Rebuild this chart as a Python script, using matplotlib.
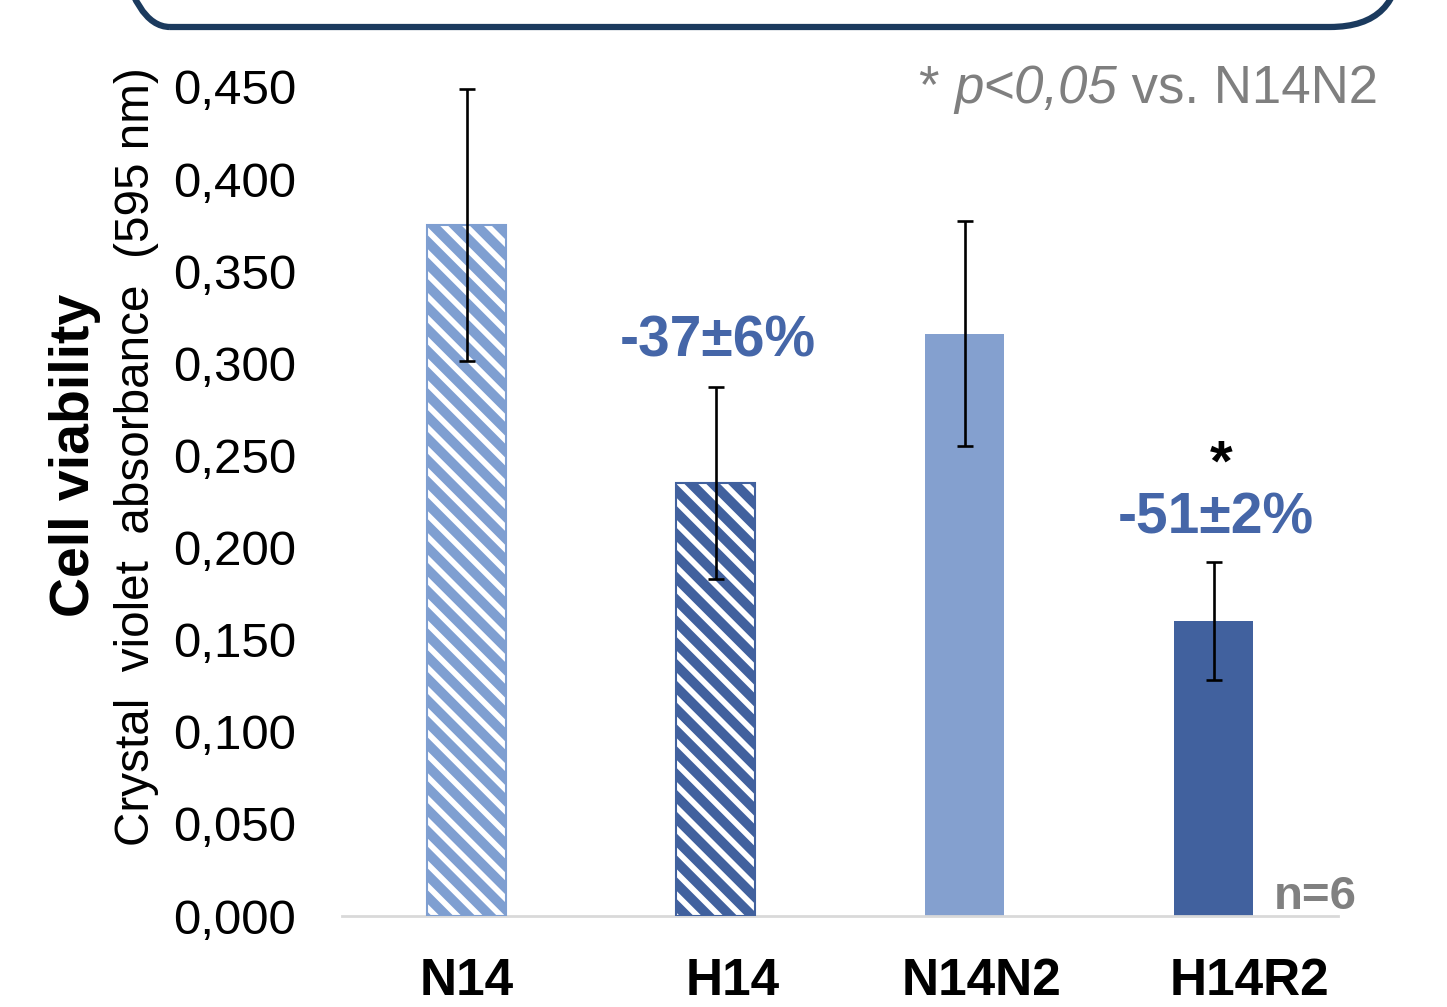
import matplotlib
matplotlib.use("Agg")
import matplotlib.pyplot as plt
from matplotlib.patches import FancyBboxPatch
from matplotlib.ticker import FuncFormatter, MultipleLocator
from matplotlib.transforms import IdentityTransform

categories = ["N14", "H14", "N14N2", "H14R2"]
means = [0.375, 0.235, 0.316, 0.160]
sds = [0.074, 0.052, 0.061, 0.032]
hatched = [True, True, False, False]
bar_colors = ["#7F9FD1", "#41619E", "#84A0CF", "#41619E"]
annot_labels = ["", "-37\u00b16%", "", "-51\u00b12%"]
annot_y = [None, 0.312, None, 0.216]
label_shift_px = [0, 17, 17, 36]

W, H = 1447, 1007
DPI = 131  # chosen so that the hatch period matches the reference


def pt(v):
    # sizes were tuned for 100 dpi; keep them the same in pixels
    return v * 100.0 / DPI


plt.rcParams["font.family"] = ["Liberation Sans", "DejaVu Sans"]
plt.rcParams["hatch.linewidth"] = 5.7 * 72 / DPI

fig = plt.figure(figsize=(W / DPI, H / DPI), dpi=DPI)


def fx(px):
    return px / W


def fy(py):
    return 1 - py / H


ax = fig.add_axes([fx(342), fy(916), fx(1338) - fx(342), fy(87) - fy(916)])
x = list(range(len(categories)))
width = 0.32

for i in x:
    if hatched[i]:
        ax.bar(i, means[i], width=width, color=bar_colors[i], edgecolor="white",
               hatch="\\\\", linewidth=0, zorder=2)
        ax.bar(i, means[i], width=width, fill=False, edgecolor=bar_colors[i],
               linewidth=pt(1.5), zorder=3)
    else:
        ax.bar(i, means[i], width=width, color=bar_colors[i], linewidth=0, zorder=2)

ax.errorbar(x, means, yerr=sds, fmt="none", ecolor="black", elinewidth=pt(1.9),
            capsize=pt(5.5), capthick=pt(1.9), zorder=4, clip_on=False)

ax.set_xlim(-0.5, 3.5)
ax.set_ylim(0, 0.45)
ax.yaxis.set_major_locator(MultipleLocator(0.05))
ax.yaxis.set_major_formatter(FuncFormatter(lambda v, p: f"{v:.3f}".replace(".", ",")))
ax.set_xticks(x)
ax.set_xticklabels([])
ax.tick_params(axis="y", length=0, pad=pt(33), labelsize=pt(35.5))
ax.tick_params(axis="x", length=0)
for s in ["top", "right", "left"]:
    ax.spines[s].set_visible(False)
ax.spines["bottom"].set_color("#D9D9D9")
ax.spines["bottom"].set_linewidth(pt(2))

# category labels (slightly shifted as in the reference)
for i, (cat, dx) in enumerate(zip(categories, label_shift_px)):
    ax.annotate(cat, xy=(i, 0), xycoords=("data", "axes fraction"),
                xytext=(dx, -41), textcoords="offset pixels",
                ha="center", va="top", fontsize=pt(37), fontweight="bold",
                annotation_clip=False)

for i in x:
    if annot_labels[i]:
        ax.text(i + 0.01, annot_y[i], annot_labels[i], ha="center", va="center",
                fontsize=pt(41), fontweight="bold", color="#4566A8")

ax.text(3.03, 0.2445, "*", ha="center", va="center", fontsize=pt(42),
        fontweight="bold", color="black")
ax.text(3.41, 0.0105, "n=6", ha="center", va="center", fontsize=pt(34),
        fontweight="bold", color="#808080")

# y labels
fig.text(fx(75), fy(455), "Cell viability", rotation=90, ha="center", va="center",
         fontsize=pt(40), fontweight="bold")
fig.text(fx(137), fy(457), "Crystal  violet  absorbance  (595 nm)", rotation=90,
         ha="center", va="center", fontsize=pt(34.3))

# significance note (right aligned, mixed styles)
fig.canvas.draw()
r = fig.canvas.get_renderer()
gray = "#7F7F7F"
t3 = fig.text(fx(1378), fy(103), " vs. N14N2", ha="right", va="baseline",
              fontsize=pt(38), color=gray)
bb = t3.get_window_extent(r)
t2 = fig.text(bb.x0 / W, fy(103), "p<0,05", ha="right", va="baseline",
              fontsize=pt(38), color=gray, style="italic")
bb2 = t2.get_window_extent(r)
fig.text(bb2.x0 / W, fy(103), "* ", ha="right", va="baseline", fontsize=pt(38),
         color=gray)

# top rounded box (cut off by the figure edge), in pixel coordinates
box = FancyBboxPatch((100, H - 27), 1300, 400,
                     boxstyle="round,pad=0,rounding_size=70",
                     transform=IdentityTransform(), fill=False,
                     edgecolor="#1B3A5E", linewidth=pt(4.5))
fig.patches.append(box)

fig.savefig("out.png", dpi=DPI)
